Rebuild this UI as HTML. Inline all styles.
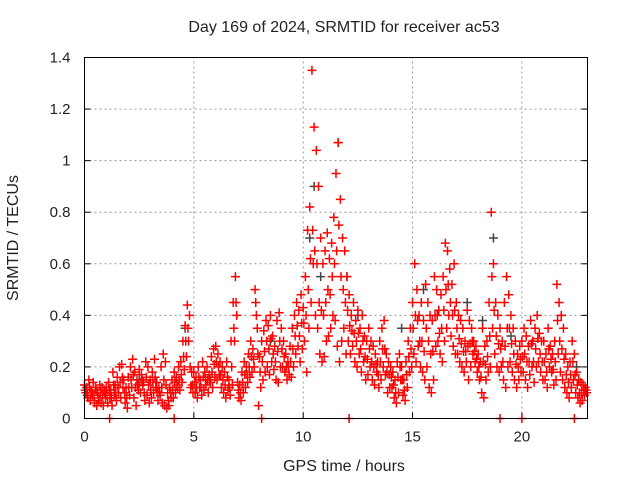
<!DOCTYPE html>
<html><head><meta charset="utf-8"><style>
body{margin:0;background:#fff;font-family:"Liberation Sans",sans-serif}
svg text{font-family:"Liberation Sans",sans-serif;font-size:15px;fill:#222}
svg text.big{font-size:16px}
</style></head><body>
<svg id="chart" width="640" height="480" viewBox="0 0 640 480" xmlns="http://www.w3.org/2000/svg">
<rect width="640" height="480" fill="#fff"/>
<text class="big" x="344" y="32" text-anchor="middle">Day 169 of 2024, SRMTID for receiver ac53</text>
<text class="big" transform="translate(18,238) rotate(-90)" text-anchor="middle">SRMTID / TECUs</text>
<text class="big" x="344" y="471" text-anchor="middle">GPS time / hours</text>
<g id="grid"></g>
<g id="ticks"></g>
<g id="marks"></g>
<rect x="84.5" y="57.5" width="503" height="361" fill="none" stroke="#000" stroke-width="1"/>
</svg>
<script>
const xTicks=[0,5,10,15,20];
const yTicks=[0,0.2,0.4,0.6,0.8,1,1.2,1.4];
const yTickLabels=["0","0.2","0.4","0.6","0.8","1","1.2","1.4"];
const stepHours=0.1;
const seriesA=[.13,.12,.15,.11,.14,.12,.10,.13,.12,.11,.12,.14,.11,.18,.13,.16,.20,.21,.15,.12,.16,.20,.23,.18,.15,.19,.17,.14,.22,.20,.15,.18,.23,.14,.12,.20,.25,.22,.10,.12,.15,.18,.16,.20,.22,.30,.36,.44,.40,.18,.18,.16,.20,.15,.22,.18,.20,.17,.24,.27,.28,.25,.22,.20,.18,.22,.15,.30,.45,.55,.14,.13,.18,.22,.20,.25,.30,.27,.50,.35,.24,.30,.34,.38,.36,.40,.32,.28,.38,.41,.35,.30,.25,.22,.28,.35,.40,.45,.42,.48,.43,.55,.73,.82,1.35,1.13,1.04,.90,.70,.60,.65,.72,.62,.68,.78,.95,1.07,.85,.70,.65,.55,.48,.40,.45,.38,.42,.35,.40,.32,.30,.35,.30,.28,.25,.22,.30,.35,.38,.25,.22,.20,.18,.15,.22,.25,.20,.15,.22,.30,.35,.45,.60,.50,.40,.45,.38,.52,.45,.40,.38,.55,.50,.42,.48,.55,.68,.65,.58,.52,.60,.45,.40,.38,.35,.30,.42,.38,.35,.30,.28,.25,.22,.35,.28,.30,.45,.80,.60,.45,.40,.35,.30,.45,.55,.48,.40,.35,.30,.25,.28,.30,.35,.32,.28,.38,.30,.35,.40,.33,.30,.30,.25,.35,.28,.25,.30,.52,.45,.40,.35,.25,.20,.22,.30,.25,.18,.15,.14,.13,.12];
const seriesB=[.10,.08,.07,.09,.06,.05,.07,.06,.05,.08,.06,.08,.05,.09,.07,.10,.08,.12,.06,.04,.09,.12,.08,.05,.11,.10,.13,.07,.09,.06,.08,.10,.12,.07,.09,.06,.05,.04,.05,.08,.08,.10,.12,.11,.14,.19,.24,.30,.12,.10,.10,.08,.12,.09,.11,.13,.10,.14,.12,.16,.15,.17,.12,.10,.08,.11,.09,.13,.30,.40,.08,.07,.10,.12,.14,.16,.18,.20,.40,.05,.12,.15,.18,.20,.17,.22,.19,.15,.14,.20,.20,.18,.15,.17,.16,.20,.25,.28,.22,.27,.30,.18,.35,.45,.60,.40,.35,.25,.22,.24,.30,.32,.35,.40,.38,.28,.22,.30,.35,.25,.30,.25,.28,.22,.20,.25,.18,.22,.15,.17,.20,.15,.13,.18,.12,.15,.20,.17,.10,.12,.12,.08,.06,.10,.15,.09,.07,.12,.18,.20,.25,.22,.28,.20,.18,.15,.20,.12,.10,.15,.28,.30,.25,.22,.30,.35,.40,.32,.28,.25,.25,.22,.20,.18,.22,.15,.20,.25,.22,.18,.15,.10,.08,.15,.18,.20,.35,.25,.20,.18,.20,.15,.12,.20,.22,.18,.15,.12,.15,.18,.18,.15,.12,.17,.20,.14,.20,.22,.18,.15,.15,.12,.20,.18,.13,.15,.25,.18,.15,.12,.10,.08,.12,.15,.10,.08,.06,.07,.09,.10];
const seriesC=[.11,.09,.12,.10,.09,.11,.08,.10,.09,.10,.09,.11,.08,.13,.10,.12,.14,.16,.10,.08,.12,.15,.17,.12,.13,.14,.15,.10,.16,.13,.11,.14,.16,.10,.10,.12,.15,.13,.07,.10,.11,.14,.13,.15,.17,.24,.30,.35,.20,.13,.14,.12,.16,.12,.16,.15,.15,.15,.18,.21,.22,.20,.17,.15,.13,.16,.12,.20,.35,.45,.11,.10,.14,.17,.17,.20,.24,.23,.45,.25,.18,.22,.26,.30,.27,.31,.25,.22,.26,.30,.27,.24,.20,.20,.22,.27,.32,.36,.32,.37,.37,.40,.50,.62,.73,.65,.60,.45,.42,.40,.45,.50,.48,.55,.60,.65,.75,.55,.50,.45,.42,.36,.34,.33,.30,.33,.27,.30,.24,.23,.27,.22,.20,.21,.17,.22,.27,.27,.18,.17,.16,.13,.10,.16,.20,.15,.11,.17,.24,.27,.35,.40,.38,.30,.30,.26,.35,.30,.25,.26,.40,.40,.33,.35,.42,.50,.52,.45,.40,.42,.35,.31,.29,.26,.26,.28,.29,.30,.26,.23,.20,.16,.22,.21,.24,.32,.55,.42,.32,.29,.27,.22,.28,.35,.35,.29,.25,.21,.20,.23,.24,.25,.22,.22,.29,.22,.27,.31,.25,.22,.22,.18,.27,.23,.19,.22,.38,.30,.27,.23,.17,.14,.17,.22,.17,.13,.10,.10,.11,.11];
const grayTimes=[0.1,2.5,4.6,8.5,10.3,10.5,10.8,11.6,12.0,12.5,14.5,15.5,16.2,17.5,18.2,18.7,19.5,20.5,21.8,22.5];
const grayValues=[0.12,0.15,0.35,0.30,0.70,0.90,0.55,1.07,0.55,0.40,0.35,0.50,0.42,0.45,0.38,0.70,0.32,0.30,0.40,0.20];
const zeroTimes=[1.15,4.1,8.1,12.1,19.0,20.0,22.4];

const X0=84.5,X1=587.5,Y0=418.5,Y1=57.5,XMAX=23,YMAX=1.4;
const xs=t=>X0+(X1-X0)*t/XMAX;
const ys=v=>Y0-(Y0-Y1)*v/YMAX;
const NS="http://www.w3.org/2000/svg";
const grid=document.getElementById('grid'),ticks=document.getElementById('ticks'),marks=document.getElementById('marks');
function mk(tag,attrs,parent){const e=document.createElementNS(NS,tag);for(const k in attrs)e.setAttribute(k,attrs[k]);parent.appendChild(e);return e;}
xTicks.forEach(t=>{
  const x=xs(t);
  if(t>0){const g=mk('line',{x1:x,x2:x,y1:Y0,y2:Y1,stroke:'#999','stroke-dasharray':'2,3'},grid);
  
  }
  const l=mk('text',{x:x,y:Y0+23,'text-anchor':'middle'},ticks);l.textContent=String(t);
  
  
  mk('line',{x1:x,x2:x,y1:Y0,y2:Y0-6,stroke:'#000'},ticks);
});
yTicks.forEach((v,i)=>{
  const y=ys(v);
  if(v>0&&v<YMAX){const g=mk('line',{x1:X0,x2:X1,y1:y,y2:y,stroke:'#999','stroke-dasharray':'2,3'},grid);
  
  }
  const l=mk('text',{x:X0-14,y:y+5,'text-anchor':'end'},ticks);l.textContent=yTickLabels[i];
  
  
  mk('line',{x1:X0,x2:X0+6,y1:y,y2:y,stroke:'#000'},ticks);
  mk('line',{x1:X1,x2:X1-6,y1:y,y2:y,stroke:'#000'},ticks);
});
function plus(t,v,color,name){
  const x=xs(t),y=ys(v);
  const p=mk('path',{d:`M${x-4.5},${y}h9M${x},${y-4.5}v9`,stroke:color,'stroke-width':1.5,fill:'none'},marks);
  
  
}
grayValues.forEach((v,i)=>plus(grayTimes[i],v,'#444','gray-point'));
seriesC.forEach((v,i)=>plus(i*stepHours+0.03,v,'#f00','red-point'));
seriesA.forEach((v,i)=>plus(i*stepHours,v,'#f00','red-point'));
seriesB.forEach((v,i)=>plus(i*stepHours+0.06,v,'#f00','red-point'));
zeroTimes.forEach(t=>plus(t,0,'#f00','zero-point'));
</script>
</body></html>
